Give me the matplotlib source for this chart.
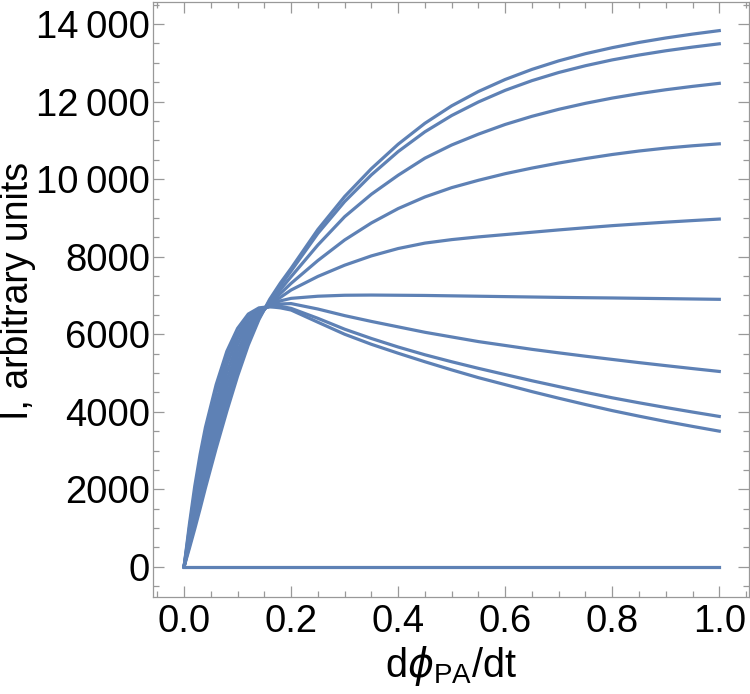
import matplotlib
matplotlib.use('Agg')
import matplotlib.pyplot as plt
from matplotlib.ticker import MultipleLocator

plt.rcParams['font.family'] = ['Liberation Sans', 'DejaVu Sans']
plt.rcParams['mathtext.fontset'] = 'custom'
plt.rcParams['mathtext.rm'] = 'Liberation Sans'
plt.rcParams['mathtext.it'] = 'DejaVu Sans:italic'

# values, curves ordered by their value at x = 1
x = [0, 0.01, 0.02, 0.03, 0.04, 0.06, 0.08, 0.1, 0.12, 0.14, 0.16, 0.18, 0.2,
     0.25, 0.3, 0.35, 0.4, 0.45, 0.5, 0.55, 0.6, 0.65, 0.7, 0.75, 0.8, 0.85,
     0.9, 0.95, 1.0]

curve_1 = [0, 480, 980, 1500, 2040, 3060, 4020, 4920, 5720, 6380, 6900, 7320, 7700,
           8700, 9550, 10270, 10900, 11440, 11890, 12260, 12570, 12830, 13050, 13235,
           13390, 13525, 13640, 13740, 13830]
curve_2 = [0, 550, 1110, 1660, 2220, 3260, 4220, 5090, 5830, 6420, 6860, 7250, 7630,
           8600, 9420, 10110, 10710, 11220, 11640, 11990, 12290, 12540, 12750, 12925,
           13075, 13200, 13310, 13405, 13490]
curve_3 = [0, 620, 1240, 1820, 2400, 3460, 4420, 5250, 5940, 6460, 6820, 7150, 7484,
           8300, 9030, 9610, 10100, 10540, 10880, 11160, 11410, 11620, 11800, 11955,
           12090, 12205, 12305, 12392, 12470]
curve_4 = [0, 690, 1370, 1980, 2580, 3660, 4620, 5420, 6050, 6500, 6790, 7050, 7312,
           7900, 8430, 8870, 9240, 9540, 9780, 9970, 10140, 10285, 10415, 10530,
           10635, 10725, 10800, 10860, 10910]
curve_5 = [0, 760, 1500, 2140, 2760, 3860, 4820, 5580, 6160, 6540, 6760, 6950, 7140,
           7490, 7780, 8020, 8210, 8350, 8440, 8510, 8570, 8630, 8690, 8746,
           8800, 8846, 8890, 8931, 8970]
curve_6 = [0, 830, 1630, 2300, 2940, 4060, 5020, 5740, 6270, 6580, 6740, 6860, 6925,
           6980, 7005, 7010, 7005, 7000, 6990, 6980, 6970, 6960, 6950, 6942,
           6935, 6926, 6918, 6909, 6900]
curve_7 = [0, 900, 1760, 2460, 3120, 4250, 5220, 5890, 6370, 6620, 6720, 6780, 6790,
           6650, 6480, 6330, 6190, 6050, 5930, 5810, 5710, 5610, 5520, 5433,
           5350, 5268, 5190, 5114, 5040]
curve_8 = [0, 1000, 1920, 2700, 3380, 4500, 5400, 6020, 6440, 6650, 6710, 6720, 6667,
           6410, 6130, 5890, 5670, 5470, 5290, 5120, 4960, 4800, 4650, 4502,
           4360, 4232, 4110, 3993, 3880]
curve_9 = [0, 1100, 2080, 2900, 3600, 4700, 5560, 6150, 6520, 6680, 6710, 6680, 6624,
           6310, 6000, 5740, 5510, 5290, 5080, 4880, 4700, 4520, 4350, 4187,
           4030, 3887, 3750, 3623, 3500]
curve_zero = [0] * len(x)

curves = [curve_1, curve_2, curve_3, curve_4, curve_5, curve_6, curve_7,
          curve_8, curve_9, curve_zero]

x_ticks = [0.0, 0.2, 0.4, 0.6, 0.8, 1.0]
x_tick_labels = ['0.0', '0.2', '0.4', '0.6', '0.8', '1.0']
y_ticks = [0, 2000, 4000, 6000, 8000, 10000, 12000, 14000]
y_tick_labels = ['0', '2000', '4000', '6000', '8000',
                 '10\u2009000', '12\u2009000', '14\u2009000']

line_color = '#5E81B5'
frame_color = '#999999'

fig = plt.figure(figsize=(7.5, 6.94), dpi=100)
ax = fig.add_axes([0.204, 0.140, 0.795, 0.857])

for ys in curves:
    ax.plot(x, ys, color=line_color, lw=2.3, solid_joinstyle='round')

ax.set_xlim(-0.058, 1.056)
ax.set_ylim(-773, 14566)

ax.set_xticks(x_ticks)
ax.set_xticklabels(x_tick_labels)
ax.set_yticks(y_ticks)
ax.set_yticklabels(y_tick_labels)
ax.xaxis.set_minor_locator(MultipleLocator(0.05))
ax.yaxis.set_minor_locator(MultipleLocator(500))

ax.tick_params(which='both', direction='in', top=True, right=True,
               color=frame_color, labelsize=27.5, labelcolor='black', width=0.9)
ax.tick_params(which='major', length=8)
ax.tick_params(which='minor', length=4.5)
ax.tick_params(axis='x', which='major', pad=5)
ax.tick_params(axis='y', which='major', pad=2)
for sp in ax.spines.values():
    sp.set_color(frame_color)
    sp.set_linewidth(0.9)

ax.set_xlabel(r'd$\phi_{\mathrm{PA}}$/dt', fontsize=28.5, labelpad=3)
ax.set_ylabel('I, arbitrary units', fontsize=27)
ax.yaxis.set_label_coords(-0.197, 0.515)

fig.savefig('out.png', dpi=100)
